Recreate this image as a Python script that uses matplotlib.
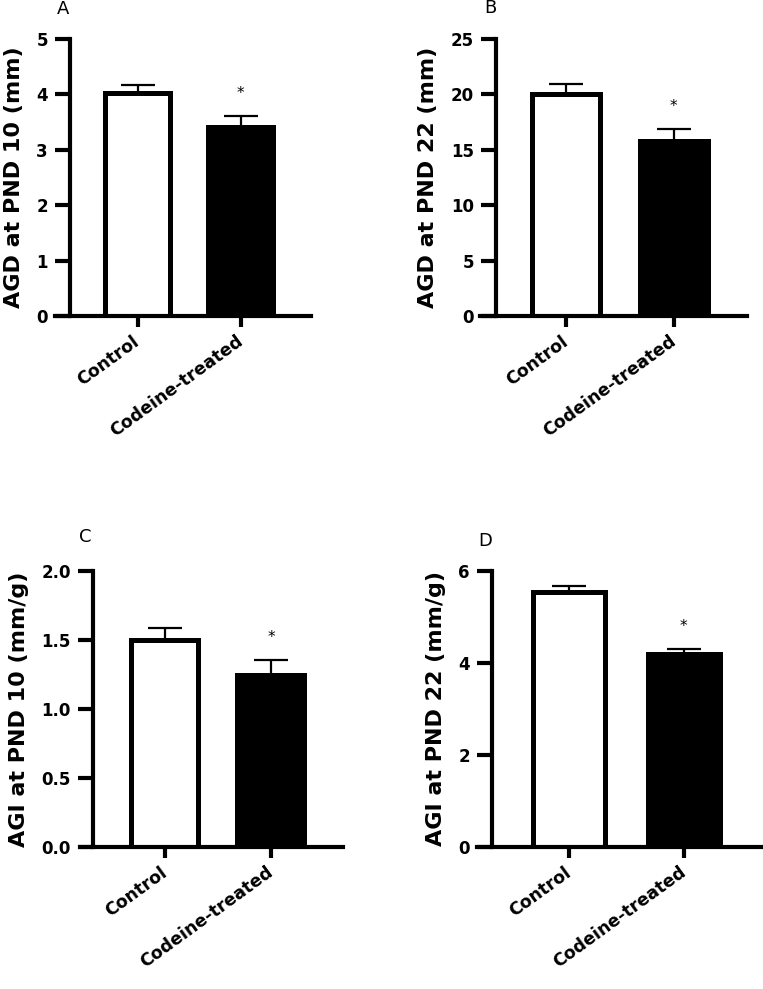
import matplotlib
matplotlib.use('Agg')
import matplotlib.pyplot as plt

# Group names and bar values
groups = ['Control', 'Codeine-treated']

agd_pnd10 = [4.03, 3.42]
agd_pnd10_sem = [0.14, 0.19]

agd_pnd22 = [20.05, 15.8]
agd_pnd22_sem = [0.85, 1.1]

agi_pnd10 = [1.50, 1.25]
agi_pnd10_sem = [0.09, 0.105]

agi_pnd22 = [5.54, 4.19]
agi_pnd22_sem = [0.14, 0.11]

panel_letters = ['A', 'B', 'C', 'D']
ylabels = ['AGD at PND 10 (mm)', 'AGD at PND 22 (mm)',
           'AGI at PND 10 (mm/g)', 'AGI at PND 22 (mm/g)']
yticks = [[0, 1, 2, 3, 4, 5], [0, 5, 10, 15, 20, 25],
          [0.0, 0.5, 1.0, 1.5, 2.0], [0, 2, 4, 6]]
ytick_labels = [['0', '1', '2', '3', '4', '5'], ['0', '5', '10', '15', '20', '25'],
                ['0.0', '0.5', '1.0', '1.5', '2.0'], ['0', '2', '4', '6']]
significant = [False, True]  # asterisk over codeine bar

means = [agd_pnd10, agd_pnd22, agi_pnd10, agi_pnd22]
sems = [agd_pnd10_sem, agd_pnd22_sem, agi_pnd10_sem, agi_pnd22_sem]

fig = plt.figure(figsize=(7.63, 9.89), dpi=100)

# axes boxes in pixels (left, top, right, bottom) and y-spine offset
W, H = 763, 989
boxes = [(55, 39, 311, 316), (480, 39, 747, 316),
         (80, 571, 343, 847), (477, 571, 762, 847)]
spine_px = [70, 496, 93, 492]
letter_pos = [(63, 9), (490, 8), (85, 537), (485, 541)]

for i in range(4):
    l, t, r, b = boxes[i]
    ax = fig.add_axes([l / W, 1 - b / H, (r - l) / W, (b - t) / H])
    # move the spine first, it resets the ticks
    for s in ['top', 'right']:
        ax.spines[s].set_visible(False)
    ax.spines['left'].set_position(('axes', (spine_px[i] - l) / (r - l)))
    ax.spines['left'].set_linewidth(3)
    ax.spines['bottom'].set_linewidth(3)
    ax.spines['left'].set_capstyle('projecting')

    x = range(len(groups))
    vals = means[i]
    errs = sems[i]

    # upper-only error bars
    ax.errorbar(x, vals, yerr=[[0] * len(vals), errs], fmt='none', ecolor='black',
                elinewidth=1.6, capsize=12, capthick=1.6, zorder=1)
    ax.bar(x, vals, width=0.63, color=['white', 'black'], edgecolor='black',
           linewidth=3.6, zorder=2)

    for j in range(len(groups)):
        if significant[j]:
            ax.annotate('*', (j, vals[j] + errs[j]), xytext=(0, 16),
                        textcoords='offset points', ha='center', va='center',
                        fontsize=11)

    ax.set_ylim(yticks[i][0], yticks[i][-1])
    ax.set_xlim(-0.8, 1.68)
    ax.set_yticks(yticks[i])
    ax.set_yticklabels(ytick_labels[i], fontsize=12, fontweight='bold')
    ax.set_xticks(list(x))
    ax.set_xticklabels(groups, fontsize=12.5, fontweight='bold', rotation=36,
                       ha='right', va='center', rotation_mode='anchor')

    ax.tick_params(axis='y', width=3, length=11, pad=5)
    ax.tick_params(axis='x', width=3, length=8, pad=9)

    ax.set_ylabel(ylabels[i], fontsize=16, fontweight='bold', labelpad=9)

    fig.text(letter_pos[i][0] / W, 1 - letter_pos[i][1] / H, panel_letters[i],
             ha='center', va='center', fontsize=13)

fig.savefig('out.png', dpi=100)
